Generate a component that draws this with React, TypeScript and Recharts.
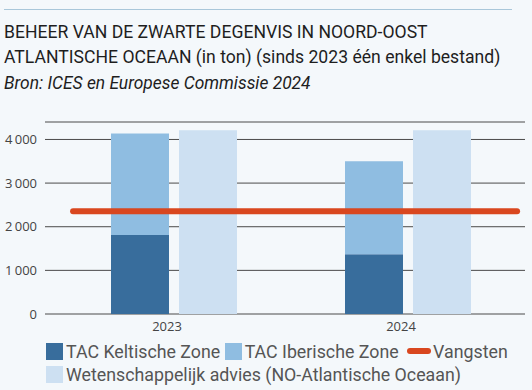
import React from "react";
import { ComposedChart, Bar, Line, XAxis, YAxis, CartesianGrid } from "recharts";

const years = ["2023", "2024"];
const tacKeltisch = [1810, 1370];
const tacIberisch = [2325, 2130];
const advies = [4210, 4210];
const vangsten = 2357;
const yTicks = [0, 1000, 2000, 3000, 4000];
const lineSpan = [-0.383, 1.467];

const COLORS = {
  kelt: "#386d9c",
  iber: "#8fbde1",
  adv: "#cde0f2",
  vang: "#d9471f",
};

const data = years.map((y, i) => ({
  year: y,
  keltisch: tacKeltisch[i],
  iberisch: tacIberisch[i],
  advies: advies[i],
}));

const lineData = lineSpan.map((p) => ({ pos: p, v: vangsten }));

const fmt = (v: number) => {
  const s = String(v);
  return s.length > 3 ? s.slice(0, s.length - 3) + "\u2009" + s.slice(-3) : s;
};

const Swatch = ({ color }: { color: string }) => (
  <span style={{ display: "inline-block", width: 17, height: 17, background: color, marginRight: 3, verticalAlign: "-2px" }} />
);

export default function App() {
  return (
    <div style={{ position: "absolute", left: 0, top: 0, width: 532, height: 390, background: "#f4f8fb", overflow: "hidden", fontFamily: "Roboto, sans-serif" }}>
      <div style={{ position: "absolute", left: 4, top: 9, width: 508, height: 1, background: "#a9c7da" }} />
      <div style={{ position: "absolute", left: 4, top: 20, fontSize: 17.6, lineHeight: "25px", color: "#1e1e1e", whiteSpace: "nowrap" }}>
        BEHEER VAN DE ZWARTE DEGENVIS IN NOORD-OOST
        <br />
        ATLANTISCHE OCEAAN (in ton) (sinds 2023 één enkel bestand)
      </div>
      <div style={{ position: "absolute", left: 4, top: 73, fontSize: 17.4, fontStyle: "italic", color: "#1e1e1e", whiteSpace: "nowrap" }}>
        Bron: ICES en Europese Commissie 2024
      </div>
      <div style={{ position: "absolute", left: 0, top: 110 }}>
        <ComposedChart width={532} height={230} data={data} margin={{ top: 12, right: 7, bottom: 0, left: 0 }} barGap={10}>
          <CartesianGrid vertical={false} stroke="#4a4a4a" strokeWidth={1} />
          <XAxis
            dataKey="year"
            axisLine={false}
            tickLine={false}
            height={26}
            padding={{ left: 12, right: 0 }}
            tick={{ fontFamily: "'Open Sans', sans-serif", fontSize: 13, fill: "#444", dx: -7 }}
          />
          <XAxis xAxisId="num" type="number" dataKey="pos" domain={[-0.5, 1.5]} hide allowDataOverflow />
          <YAxis
            width={45}
            domain={[0, 4400]}
            ticks={yTicks}
            axisLine={false}
            tickLine={false}
            tickFormatter={fmt}
            tick={{ fontFamily: "'Open Sans', sans-serif", fontSize: 13, fill: "#444" }}
          />
          <Bar dataKey="keltisch" stackId="tac" fill={COLORS.kelt} barSize={58} isAnimationActive={false} />
          <Bar dataKey="iberisch" stackId="tac" fill={COLORS.iber} barSize={58} isAnimationActive={false} />
          <Bar dataKey="advies" fill={COLORS.adv} barSize={58} isAnimationActive={false} />
          <Line
            xAxisId="num"
            data={lineData}
            dataKey="v"
            stroke={COLORS.vang}
            strokeWidth={6}
            strokeLinecap="round"
            dot={false}
            activeDot={false}
            isAnimationActive={false}
          />
        </ComposedChart>
      </div>
      <div style={{ position: "absolute", left: 46, top: 340, fontSize: 17.8, lineHeight: "23px", color: "#555", whiteSpace: "nowrap" }}>
        <div>
          <Swatch color={COLORS.kelt} />TAC Keltische Zone{" "}
          <Swatch color={COLORS.iber} />TAC Iberische Zone{" "}
          <span style={{ display: "inline-block", width: 24, height: 6, borderRadius: 3, background: COLORS.vang, marginLeft: 4, marginRight: 2, verticalAlign: "4px" }} />
          Vangsten
        </div>
        <div>
          <Swatch color={COLORS.adv} />Wetenschappelijk advies (NO-Atlantische Oceaan)
        </div>
      </div>
    </div>
  );
}
